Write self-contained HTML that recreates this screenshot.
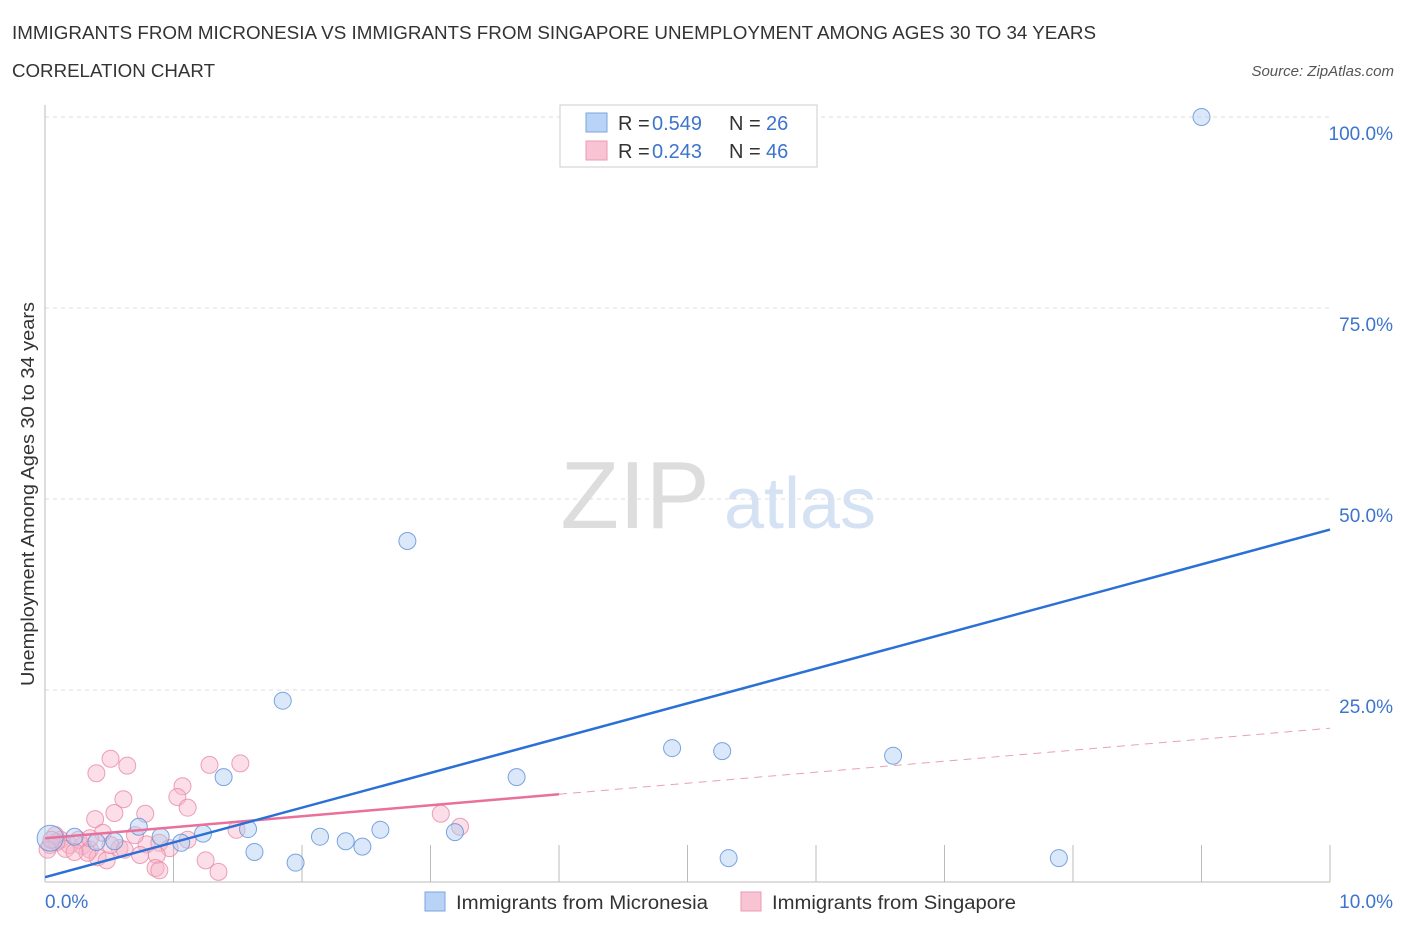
<!DOCTYPE html>
<html><head><meta charset="utf-8"><style>
body{margin:0;background:#fff;font-family:"Liberation Sans",sans-serif;}
svg text{font-family:"Liberation Sans",sans-serif;}
</style></head><body>
<svg width="1406" height="930" xmlns="http://www.w3.org/2000/svg">
<text x="12" y="39" font-size="18" fill="#333" textLength="1084" lengthAdjust="spacingAndGlyphs">IMMIGRANTS FROM MICRONESIA VS IMMIGRANTS FROM SINGAPORE UNEMPLOYMENT AMONG AGES 30 TO 34 YEARS</text>
<text x="12" y="77" font-size="18" fill="#333" textLength="203" lengthAdjust="spacingAndGlyphs">CORRELATION CHART</text>
<text x="1394" y="76" font-size="15" fill="#555" font-style="italic" text-anchor="end">Source: ZipAtlas.com</text>
<g>
<text x="635" y="528" font-size="96" fill="#ddd" text-anchor="middle" font-family="Liberation Serif">ZIP</text>
<text x="800" y="528" font-size="72" fill="#d4e2f4" text-anchor="middle">atlas</text>
</g>
<g id="grid"></g>
<g id="axes"></g>
<g id="marks"></g>
<text transform="translate(34,494) rotate(-90)" font-size="18" fill="#333" text-anchor="middle" textLength="384" lengthAdjust="spacingAndGlyphs">Unemployment Among Ages 30 to 34 years</text>
<g>
<rect x="560" y="105" width="257" height="62" fill="#fff" stroke="#ccc"/>
<rect x="586" y="113" width="21" height="19" fill="#b8d3f5" stroke="#7aa6e0"/>
<rect x="586" y="141" width="21" height="19" fill="#f8c3d3" stroke="#ec9ab4"/>
<text x="618" y="130" font-size="20" fill="#333">R =</text>
<text x="652" y="130" font-size="20" fill="#3d74cc">0.549</text>
<text x="729" y="130" font-size="20" fill="#333">N =</text>
<text x="766" y="130" font-size="20" fill="#3d74cc">26</text>
<text x="618" y="158" font-size="20" fill="#333">R =</text>
<text x="652" y="158" font-size="20" fill="#3d74cc">0.243</text>
<text x="729" y="158" font-size="20" fill="#333">N =</text>
<text x="766" y="158" font-size="20" fill="#3d74cc">46</text>
</g>
<g>
<rect x="425" y="892" width="20" height="19" fill="#b8d3f5" stroke="#7aa6e0"/>
<text x="456" y="909" font-size="19" fill="#333" textLength="252" lengthAdjust="spacingAndGlyphs">Immigrants from Micronesia</text>
<rect x="741" y="892" width="20" height="19" fill="#f8c3d3" stroke="#ec9ab4"/>
<text x="772" y="909" font-size="19" fill="#333" textLength="244" lengthAdjust="spacingAndGlyphs">Immigrants from Singapore</text>
</g>
</svg>
<script>
const blueX=[9.0,2.82,1.85,4.88,5.27,6.6,3.67,1.39,0.73,1.58,2.61,3.19,2.14,2.34,2.47,1.06,1.23,0.9,0.54,0.23,0.04,1.63,1.95,5.32,7.89,0.4];
const blueY=[100,44.5,23.6,17.4,17.0,16.4,13.6,13.6,7.1,6.8,6.7,6.4,5.8,5.2,4.5,5.0,6.2,5.8,5.2,5.8,5.6,3.8,2.4,3.0,3.0,5.1];
const pinkX=[0.51,0.4,0.64,1.52,1.28,1.07,0.61,1.03,1.11,0.78,0.54,0.39,3.08,3.23,1.49,0.45,0.12,0.04,0.19,0.29,0.35,0.16,0.09,0.26,0.58,0.79,0.89,0.97,0.74,0.87,0.41,0.48,0.33,1.25,1.35,0.86,0.89,0.51,0.62,1.11,0.02,0.08,0.7,0.05,0.23,0.35];
const pinkY=[16.0,14.1,15.1,15.4,15.2,12.4,10.7,11.0,9.6,8.8,8.9,8.1,8.8,7.1,6.7,6.3,5.4,4.7,4.7,4.6,4.1,4.2,5.1,5.4,4.3,4.8,5.0,4.3,3.4,3.4,3.1,2.7,3.7,2.7,1.2,1.7,1.4,4.7,4.1,5.4,4.1,6.0,6.0,5.4,3.8,5.6];
const blueTrend=[0.5,46];
const pinkTrend=[5.6,20];
const yTicks=[25,50,75,100];
const yTickLabels=["25.0%","50.0%","75.0%","100.0%"];
const xTickLabels=["0.0%","10.0%"];
const NS="http://www.w3.org/2000/svg";
const X=v=>45+v*128.5, Y=v=>881-v*7.64;
function mk(p,t,a){const e=document.createElementNS(NS,t);for(const k in a)e.setAttribute(k,a[k]);p.appendChild(e);return e;}
const grid=document.getElementById('grid'),axes=document.getElementById('axes'),marks=document.getElementById('marks');
yTicks.forEach((t,i)=>{
 const l=mk(grid,'line',{x1:45,x2:1330,y1:Y(t),y2:Y(t),stroke:'#ddd','stroke-dasharray':'4,4'});
 
 
 const tx=mk(axes,'text',{x:1393,y:Y(t)+23,'font-size':19,fill:'#3d74cc','text-anchor':'end'});
 tx.textContent=yTickLabels[i];
 
 
});
const ax=mk(axes,'line',{x1:45,x2:45,y1:105,y2:882,stroke:'#bbb'});


const bx=mk(axes,'line',{x1:45,x2:1330,y1:882,y2:882,stroke:'#bbb'});


for(let i=1;i<=10;i++){
 const t=mk(axes,'line',{x1:X(i),x2:X(i),y1:845,y2:882,stroke:'#bbb'});
 
 
}
[[0,'start',45],[10,'end',1393]].forEach((d,i)=>{
 const t=mk(axes,'text',{x:d[2],y:908,'font-size':19,fill:'#3d74cc','text-anchor':d[1]});
 t.textContent=xTickLabels[i];
 
 
});
function dot(x,y,r,fill,stroke,name){
 const c=mk(marks,'circle',{cx:X(x),cy:Y(y),r:r,fill:fill,'fill-opacity':0.45,stroke:stroke,'stroke-opacity':0.8,'stroke-width':1});
 
 
}
pinkX.forEach((x,i)=>dot(x,pinkY[i],8.5,'#f6b6c9','#e88aa8','singapore-point'));
blueX.forEach((x,i)=>dot(x,blueY[i],i==20?13:8.5,'#b0cdf2','#5d8fd8','micronesia-point'));
const pe=pinkTrend[0]+(pinkTrend[1]-pinkTrend[0])*0.4;
const p1=mk(marks,'line',{x1:X(0),y1:Y(pinkTrend[0]),x2:X(4),y2:Y(pe),stroke:'#e8709a','stroke-width':2.5});


const p2=mk(marks,'line',{x1:X(4),y1:Y(pe),x2:X(10),y2:Y(pinkTrend[1]),stroke:'#e8a0b8','stroke-width':1,'stroke-dasharray':'8,6'});


const b1=mk(marks,'line',{x1:X(0),y1:Y(blueTrend[0]),x2:X(10),y2:Y(blueTrend[1]),stroke:'#2a70d6','stroke-width':2.5});


</script>
</body></html>
